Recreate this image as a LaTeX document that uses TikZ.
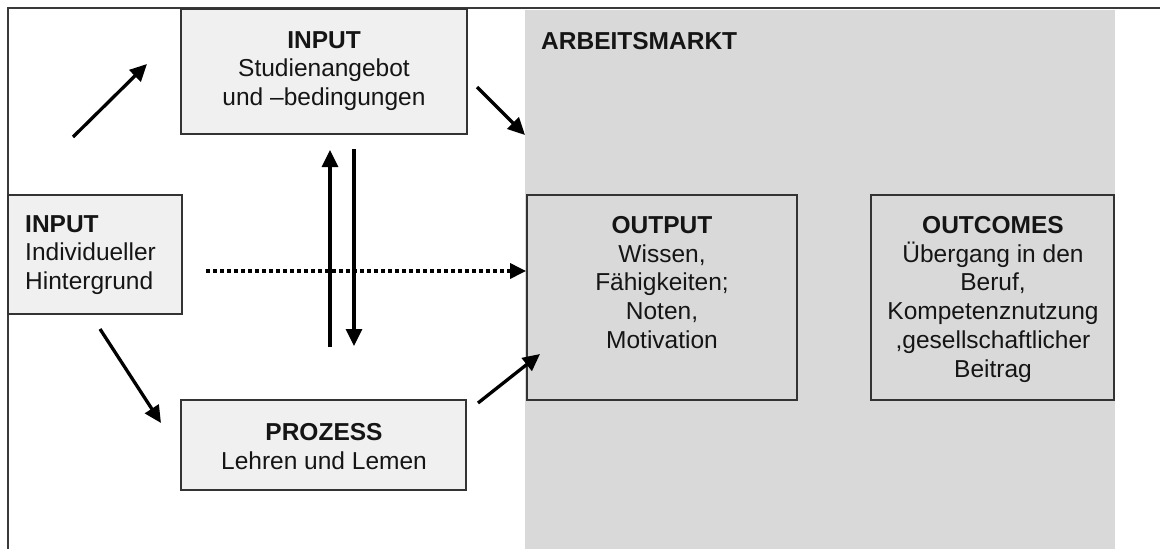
\documentclass[tikz,border=0pt]{standalone}
\usepackage{fontspec}
\setmainfont{Liberation Sans}
\usetikzlibrary{arrows.meta}
\definecolor{frameC}{HTML}{3A3A3A}
\definecolor{boxline}{HTML}{333333}
\definecolor{lightfill}{HTML}{F0F0F0}
\definecolor{marketfill}{HTML}{D9D9D9}
\definecolor{txt}{HTML}{151515}
\begin{document}
\begin{tikzpicture}[x=1pt,y=-1pt,
 box/.style={draw=boxline, line width=1.8pt, inner sep=0pt},
 lbox/.style={box, fill=lightfill},
 dbox/.style={box, fill=marketfill},
 lbl/.style={font=\fontsize{24.5}{28.8}\selectfont, text=txt, inner sep=0pt, align=center},
 arr/.style={line width=3.3pt, -{Triangle[length=17pt,width=16pt]}},
 dotarr/.style={line width=3.2pt, dash pattern=on 3.5pt off 3.5pt, -{Triangle[length=16pt,width=15pt]}}
]
\useasboundingbox (0,0) rectangle (1160,549);
% labour market region
\node[fill=marketfill, inner sep=0pt, minimum width=590pt, minimum height=539pt] (market) at (820,279.5) {};
% frame
\draw[frameC, line width=2.2pt] (8,549) -- (8,8) -- (1160,8);
% boxes
\node[lbox, minimum width=286pt, minimum height=125pt] (topbox) at (324,71.5) {};
\node[lbox, minimum width=174pt, minimum height=119pt] (leftbox) at (95,254.5) {};
\node[lbox, minimum width=285pt, minimum height=90pt] (procbox) at (323.5,445) {};
\node[dbox, minimum width=270pt, minimum height=205pt] (outbox) at (662,297.5) {};
\node[dbox, minimum width=243pt, minimum height=205pt] (ocbox) at (992.5,297.5) {};
% texts
\node[lbl, anchor=north west] (marketT) at (541,32) {\textbf{ARBEITSMARKT}};
\node[lbl, anchor=north] (topT) at (324,31) {\textbf{INPUT}\\Studienangebot\\und –bedingungen};
\node[lbl, anchor=north west, align=left] (leftT) at (25,215) {\textbf{INPUT}\\Individueller\\Hintergrund};
\node[lbl, anchor=north] (procT) at (324,423) {\textbf{PROZESS}\\Lehren und Lemen};
\node[lbl, anchor=north] (outT) at (662,216) {\textbf{OUTPUT}\\Wissen,\\Fähigkeiten;\\Noten,\\Motivation};
\node[lbl, anchor=north] (ocT) at (993,216) {\textbf{OUTCOMES}\\Übergang in den\\Beruf,\\Kompetenznutzung\\,gesellschaftlicher\\Beitrag};
% arrows
\coordinate (a1s) at (73,137);  \coordinate (a1e) at (147,64);
\coordinate (a2s) at (477,87);  \coordinate (a2e) at (525,135);
\coordinate (ups) at (330,347); \coordinate (upe) at (330,150);
\coordinate (dns) at (354,149); \coordinate (dne) at (354,346);
\coordinate (a3s) at (100,329); \coordinate (a3e) at (161,423);
\coordinate (a4s) at (478,403); \coordinate (a4e) at (540,354);
\coordinate (d0) at (206,271);
\draw[arr] (a1s) -- (a1e);
\draw[arr] (a2s) -- (a2e);
\draw[arr] (ups) -- (upe);
\draw[arr] (dns) -- (dne);
\draw[arr] (a3s) -- (a3e);
\draw[arr] (a4s) -- (a4e);
\draw[dotarr] (d0) -- (d0 -| outbox.west);
\end{tikzpicture}
\end{document}
